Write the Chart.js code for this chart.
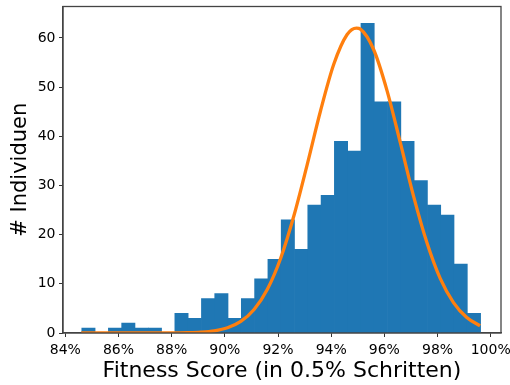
<!DOCTYPE html>
<html>
<head>
<meta charset="utf-8">
<script src="https://cdn.jsdelivr.net/npm/chart.js@4"></script>
<style>
  html, body { margin: 0; padding: 0; background: #fff; }
  #wrap { width: 510px; height: 385px; }
</style>
</head>
<body>
<div id="wrap"><canvas id="c" width="510" height="385"></canvas></div>
<script>
// Histogram bins (centres, in %), 0.5 % wide
const binCenters = [84.87, 85.37, 85.87, 86.37, 86.87, 87.37, 87.87, 88.37, 88.87, 89.37,
                    89.87, 90.37, 90.87, 91.37, 91.87, 92.37, 92.87, 93.37, 93.87, 94.37,
                    94.87, 95.37, 95.87, 96.37, 96.87, 97.37, 97.87, 98.37, 98.87, 99.37];
// Number of individuals per bin
const binCounts = [1, 0, 1, 2, 1, 1, 0, 4, 3, 7,
                   8, 3, 7, 11, 15, 23, 17, 26, 28, 39,
                   37, 63, 47, 47, 39, 31, 26, 24, 14, 4];

// Fitted normal curve, sampled points (x in %, y in individuals)
const curveX = [84.6, 85.1, 85.6, 86.1, 86.6, 87.1, 87.6, 88.1, 88.6, 89.1,
                89.6, 90.1, 90.6, 91.1, 91.6, 92.1, 92.6, 93.1, 93.6, 94.1,
                94.6, 94.95, 95.1, 95.6, 96.1, 96.6, 97.1, 97.6, 98.1, 98.6, 99.1, 99.6];
const curveY = [0.0, 0.0, 0.0, 0.0, 0.0, 0.0, 0.01, 0.02, 0.06, 0.17,
                0.44, 1.06, 2.35, 4.77, 8.89, 15.2, 23.9, 34.3, 45.2, 54.7,
                60.7, 62.0, 61.8, 57.6, 49.3, 38.7, 27.8, 18.4, 11.1, 6.19, 3.15, 1.47];

// Axis tick values
const xTicks = [84, 86, 88, 90, 92, 94, 96, 98, 100];
const yTicks = [0, 10, 20, 30, 40, 50, 60];

const FONT = "'DejaVu Sans', sans-serif";
const TICK_COLOR = '#333';

// Frame around the plotting area (all four sides)
const frame = {
  id: 'frame',
  afterDatasetsDraw(chart) {
    const a = chart.chartArea, ctx = chart.ctx;
    ctx.save();
    ctx.strokeStyle = '#444';
    ctx.lineWidth = 1.3;
    ctx.strokeRect(a.left, a.top, a.right - a.left, a.bottom - a.top);
    ctx.restore();
  }
};

new Chart(document.getElementById('c'), {
  type: 'bar',
  data: {
    datasets: [
      {
        type: 'line',
        data: curveX.map((x, i) => ({ x: x, y: curveY[i] })),
        borderColor: '#ff7f0e',
        borderWidth: 3.3,
        pointRadius: 0,
        fill: false,
        cubicInterpolationMode: 'monotone',
        order: 0
      },
      {
        type: 'bar',
        data: binCenters.map((x, i) => ({ x: x, y: binCounts[i] })),
        backgroundColor: '#1f77b4',
        borderWidth: 0,
        barPercentage: 1.0,
        categoryPercentage: 1.0,
        order: 1
      }
    ]
  },
  options: {
    responsive: false,
    animation: false,
    devicePixelRatio: 1,
    layout: { padding: { top: 6.5, right: 9, left: 0, bottom: 0 } },
    plugins: { legend: { display: false }, tooltip: { enabled: false } },
    scales: {
      x: {
        type: 'linear',
        offset: false,
        min: 83.913,
        max: 100.387,
        afterBuildTicks(scale) { scale.ticks = xTicks.map(v => ({ value: v })); },
        afterFit(scale) { scale.height = 52; scale.paddingLeft = 0; scale.paddingRight = 0; },
        grid: { display: true, drawOnChartArea: false, drawTicks: true, tickLength: 4, color: TICK_COLOR, offset: false },
        border: { display: true, color: '#444', width: 1.3 },
        ticks: {
          autoSkip: false,
          maxRotation: 0,
          padding: 5,
          color: '#000',
          font: { family: FONT, size: 14 },
          callback: v => v + '%'
        },
        title: {
          display: true,
          text: 'Fitness Score (in 0.5% Schritten)',
          color: '#000',
          font: { family: FONT, size: 22 },
          padding: { top: 0, bottom: 0.5 }
        }
      },
      y: {
        min: 0,
        max: 66.4,
        afterBuildTicks(scale) { scale.ticks = yTicks.map(v => ({ value: v })); },
        afterFit(scale) { scale.width = 63; scale.paddingTop = 0; scale.paddingBottom = 0; },
        grid: { display: true, drawOnChartArea: false, drawTicks: true, tickLength: 4, color: TICK_COLOR },
        border: { display: true, color: '#444', width: 1.3 },
        ticks: {
          autoSkip: false,
          padding: 3.5,
          color: '#000',
          font: { family: FONT, size: 14 }
        },
        title: {
          display: true,
          text: '# Individuen',
          color: '#000',
          font: { family: FONT, size: 21 },
          padding: { top: 7.5, bottom: 0 }
        }
      }
    }
  },
  plugins: [frame]
});
</script>
</body>
</html>
